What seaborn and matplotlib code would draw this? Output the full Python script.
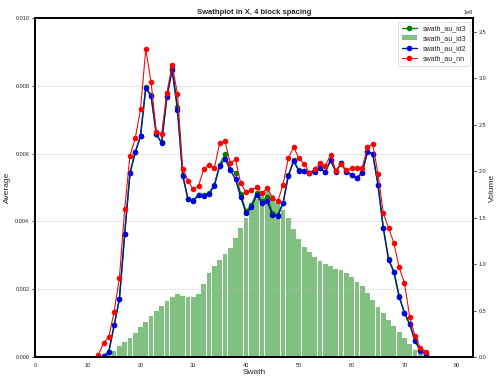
import numpy as np
import pandas as pd
import matplotlib
matplotlib.use("Agg")
import matplotlib.pyplot as plt
import seaborn as sns
from matplotlib.lines import Line2D
from matplotlib.patches import Patch

sns.set_style("white")
plt.rcParams['font.family'] = ['Liberation Sans', 'DejaVu Sans']

# volume per swath (bars, 1e8 units)
vol_x = list(range(14, 74))
vol = [0.04, 0.07, 0.12, 0.165, 0.21, 0.26, 0.32, 0.38, 0.44, 0.50,
       0.55, 0.60, 0.645, 0.68, 0.66, 0.65, 0.65, 0.68, 0.79, 0.91,
       0.98, 1.04, 1.11, 1.17, 1.28, 1.39, 1.50, 1.63, 1.70, 1.76,
       1.80, 1.74, 1.66, 1.58, 1.50, 1.38, 1.27, 1.18, 1.13, 1.08,
       1.035, 1.00, 0.98, 0.945, 0.935, 0.90, 0.86, 0.81, 0.76, 0.69,
       0.615, 0.535, 0.47, 0.40, 0.335, 0.27, 0.21, 0.14, 0.075, 0.03]

# nn averages
nn_x = list(range(12, 75))
nn = [0.00006, 0.00041, 0.00059, 0.00134, 0.00233, 0.00437, 0.00594, 0.00645,
      0.00731, 0.00908, 0.00811, 0.00664, 0.00659, 0.00780, 0.00861, 0.00777,
      0.00554, 0.00519, 0.00495, 0.00506, 0.00555, 0.00568, 0.00558, 0.00632,
      0.00637, 0.00572, 0.00583, 0.00512, 0.00486, 0.00492, 0.00502, 0.00483,
      0.00499, 0.00470, 0.00459, 0.00509, 0.00586, 0.00619, 0.00588, 0.00570,
      0.00544, 0.00554, 0.00571, 0.00563, 0.00597, 0.00550, 0.00570, 0.00552,
      0.00557, 0.00557, 0.00558, 0.00619, 0.00628, 0.00540, 0.00424, 0.00381,
      0.00336, 0.00265, 0.00218, 0.00119, 0.00062, 0.00027, 0.00016]

# id2 averages
id_x = list(range(13, 75))
id2 = [0.00002, 0.00016, 0.00093, 0.00171, 0.00362, 0.00542, 0.00604, 0.00652,
       0.00793, 0.00770, 0.00657, 0.00631, 0.00767, 0.00846, 0.00729, 0.00535,
       0.00465, 0.00461, 0.00477, 0.00475, 0.00481, 0.00506, 0.00564, 0.00585,
       0.00552, 0.00524, 0.00471, 0.00424, 0.00443, 0.00477, 0.00455, 0.00460,
       0.00419, 0.00416, 0.00453, 0.00534, 0.00578, 0.00549, 0.00549, 0.00542,
       0.00547, 0.00557, 0.00545, 0.00581, 0.00547, 0.00571, 0.00547, 0.00537,
       0.00528, 0.00544, 0.00606, 0.00599, 0.00507, 0.00380, 0.00287, 0.00251,
       0.00178, 0.00130, 0.00096, 0.00048, 0.00019, 0.00009]

# id3 averages (mostly under id2)
id3 = [0.00002, 0.00016, 0.00093, 0.00171, 0.00362, 0.00542, 0.00604, 0.00652,
       0.00798, 0.00772, 0.00657, 0.00633, 0.00769, 0.00852, 0.00739, 0.00538,
       0.00466, 0.00463, 0.00479, 0.00479, 0.00484, 0.00508, 0.00568, 0.00598,
       0.00556, 0.00542, 0.00480, 0.00430, 0.00448, 0.00485, 0.00460, 0.00473,
       0.00424, 0.00420, 0.00455, 0.00536, 0.00580, 0.00551, 0.00550, 0.00543,
       0.00548, 0.00558, 0.00546, 0.00582, 0.00548, 0.00572, 0.00548, 0.00538,
       0.00529, 0.00545, 0.00607, 0.00600, 0.00508, 0.00381, 0.00288, 0.00252,
       0.00179, 0.00131, 0.00097, 0.00049, 0.00020, 0.00010]

vol_df = pd.DataFrame({"swath": vol_x, "volume": np.array(vol) * 1e8})

fig = plt.figure(figsize=(4.99, 3.77), dpi=100)
ax = fig.add_axes([0.070, 0.053, 0.878, 0.899])
ax2 = ax.twinx()

sns.barplot(data=vol_df, x="swath", y="volume", native_scale=True, width=0.9,
            color="#80c080", saturation=1, edgecolor="none", ax=ax2)

sns.lineplot(x=id_x, y=id3, color="green", marker="o", markersize=4,
             markeredgewidth=0, linewidth=1, ax=ax)
sns.lineplot(x=id_x, y=id2, color="#0a1a8c", marker="o", markersize=4,
             markerfacecolor="#0000e0", markeredgewidth=0, linewidth=1, ax=ax)
sns.lineplot(x=nn_x, y=nn, color="#e41010", marker="o", markersize=4,
             markerfacecolor="red", markeredgewidth=0, linewidth=0.8, ax=ax)

ax.set_zorder(ax2.get_zorder() + 1)
ax.patch.set_visible(False)

ax.set_xlim(0, 83)
ax.set_ylim(0, 0.010)
ax2.set_ylim(0, 3.65e8)
ax.set_xticks(range(0, 81, 10))
ax.set_yticks([0.000, 0.002, 0.004, 0.006, 0.008, 0.010])
ax.set_yticklabels(["0.000", "0.002", "0.004", "0.006", "0.008", "0.010"])
ax2.set_yticks(np.arange(0, 3.6e8, 0.5e8))
ax.yaxis.grid(True, linestyle=":", color="#bbbbbb", linewidth=0.7)
ax.xaxis.grid(False)
ax2.grid(False)

for a in (ax, ax2):
    a.tick_params(labelsize=4, length=2, width=0.6, pad=2)
    for s in a.spines.values():
        s.set_linewidth(1.3)
        s.set_color("black")
ax2.yaxis.get_offset_text().set_fontsize(4)
ax2.set_xlabel("")

ax.set_xlabel("Swath", fontsize=6, labelpad=1)
ax.set_ylabel("Average", fontsize=6, labelpad=3)
ax2.set_ylabel("Volume", fontsize=6, labelpad=2)
ax.set_title("Swathplot in X, 4 block spacing", fontsize=5.5, fontweight="bold", pad=3)

handles = [
    Line2D([], [], color="green", marker="o", markersize=4, markeredgewidth=0, linewidth=1),
    Patch(facecolor="#80c080", edgecolor="none"),
    Line2D([], [], color="#0a1a8c", marker="o", markersize=4, markerfacecolor="#0000e0",
           markeredgewidth=0, linewidth=1),
    Line2D([], [], color="#e41010", marker="o", markersize=4, markerfacecolor="red",
           markeredgewidth=0, linewidth=0.8),
]
labels = ["swath_au_id3", "swath_au_id3", "swath_au_id2", "swath_au_nn"]
leg = ax.legend(handles, labels, loc="upper right", fontsize=5, frameon=True,
                handlelength=2.2, borderpad=0.5, labelspacing=0.45, fancybox=False)
leg.get_frame().set_linewidth(0.5)
leg.get_frame().set_edgecolor("#cccccc")

fig.savefig("out.png", dpi=100)
